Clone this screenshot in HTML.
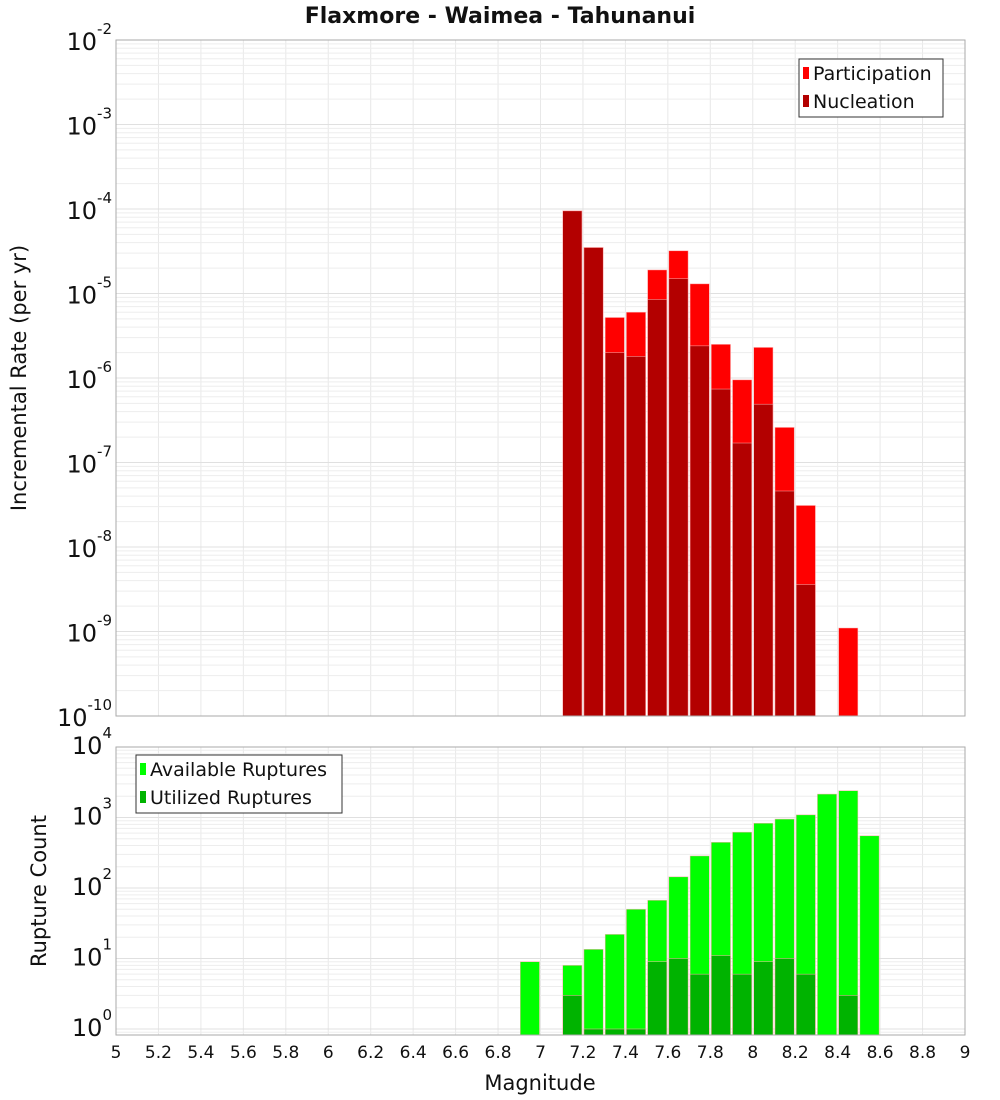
<!DOCTYPE html>
<html><head><meta charset="utf-8"><style>
body{margin:0;background:#fff}
svg{display:block;font-family:"DejaVu Sans","Liberation Sans",sans-serif}
</style></head><body>
<svg id="c" width="1000" height="1100" xmlns="http://www.w3.org/2000/svg"></svg>
<script>
const binCenters = [6.95,7.05,7.15,7.25,7.35,7.45,7.55,7.65,7.75,7.85,7.95,8.05,8.15,8.25,8.35,8.45,8.55];
const participation = [0,0,9.5e-5,3.5e-5,5.2e-6,6e-6,1.9e-5,3.2e-5,1.3e-5,2.5e-6,9.5e-7,2.3e-6,2.6e-7,3.1e-8,0,1.1e-9,0];
const nucleation = [0,0,9.5e-5,3.5e-5,2.0e-6,1.8e-6,8.5e-6,1.5e-5,2.4e-6,7.4e-7,1.7e-7,4.9e-7,4.6e-8,3.6e-9,0,0,0];
const available = [9,0,8,13.5,22,50,67,144,285,445,620,830,950,1090,2150,2400,550];
const utilized = [0,0,3,1,1,1,9,10,6,11,6,9,10,6,0,3,0];
const xTicks = ["5","5.2","5.4","5.6","5.8","6","6.2","6.4","6.6","6.8","7","7.2","7.4","7.6","7.8","8","8.2","8.4","8.6","8.8","9"];
const topExps = [-2,-3,-4,-5,-6,-7,-8,-9,-10];
const botExps = [4,3,2,1,0];

const NS="http://www.w3.org/2000/svg";
const svg=document.getElementById('c');
function mk(tag,attrs,parent){const e=document.createElementNS(NS,tag);for(const k in attrs)e.setAttribute(k,attrs[k]);(parent||svg).appendChild(e);return e;}
const X0=116,X1=965;
const xs=m=>X0+(m-5)/4*(X1-X0);
const T0=40,T1=716;
const yTop=v=>T0+(-2-Math.log10(v))*(T1-T0)/8;
const B0=747,B1=1035,BD=70.5;
const yBot=v=>B0+(4-Math.log10(v))*BD;

function grid(y0,y1,decs,yf){
  const g=mk('g',{});
  
  for(let i=0;i<=20;i++){const x=xs(5+i*0.2);mk('line',{x1:x,x2:x,y1:y0,y2:y1,stroke:'#e8e8e8','stroke-width':1},g);}
  for(const d of decs){for(let k=1;k<10;k++){const y=yf(k*Math.pow(10,d));if(y>=y0&&y<=y1)mk('line',{x1:X0,x2:X1,y1:y,y2:y,stroke:k==1?'#e0e0e0':'#ededed','stroke-width':1},g);}}
}
grid(T0,T1,[-10,-9,-8,-7,-6,-5,-4,-3,-2],yTop);
grid(B0,B1,[-1,0,1,2,3,4],yBot);

const bw=(xs(5.1)-xs(5))-2;
function bars(vals,yf,ybase,color,name){
  const g=mk('g',{});
  
  vals.forEach((v,i)=>{if(!v)return;const y=Math.max(yf(v),0);const x=xs(binCenters[i])-bw/2;
    const r=mk('rect',{x:x,y:y,width:bw,height:ybase-y,fill:color,stroke:'#ffb0b0','stroke-width':0.5},g);
    
    });
}
bars(participation,yTop,T1,'#ff0000','participation');
bars(nucleation,yTop,T1,'#b30000','nucleation');
bars(available,yBot,B1,'#00ff00','available-ruptures');
bars(utilized,yBot,B1,'#00b300','utilized-ruptures');

mk('rect',{x:X0,y:T0,width:X1-X0,height:T1-T0,fill:'none',stroke:'#aaa'});
mk('rect',{x:X0,y:B0,width:X1-X0,height:B1-B0,fill:'none',stroke:'#aaa'});

function tickLbl(exp,y,name){
  const t=mk('text',{x:112,y:y+10,'text-anchor':'end','font-size':24,fill:'#111'});
  
  t.textContent='10';
  const s=mk('tspan',{dy:-16,'font-size':15});s.textContent=String(exp);t.appendChild(s);
}
topExps.forEach(e=>tickLbl(e,yTop(Math.pow(10,e)),'top-y-tick'));
botExps.forEach(e=>tickLbl(e,yBot(Math.pow(10,e))-3,'bottom-y-tick'));
// fix superscript anchoring: shift superscripts right of base
xTicks.forEach((l,i)=>{const t=mk('text',{x:xs(5+i*0.2),y:1058,'text-anchor':'middle','font-size':17,fill:'#111'});t.textContent=l;});

let t=mk('text',{x:500,y:23,'text-anchor':'middle','font-size':22,'font-weight':'bold',fill:'#111'});t.textContent='Flaxmore - Waimea - Tahunanui';
t=mk('text',{x:540,y:1090,'text-anchor':'middle','font-size':21,fill:'#111'});t.textContent='Magnitude';
t=mk('text',{x:26,y:378,'text-anchor':'middle','font-size':21,fill:'#111',transform:'rotate(-90 26 378)'});t.textContent='Incremental Rate (per yr)';
t=mk('text',{x:46,y:891,'text-anchor':'middle','font-size':21,fill:'#111',transform:'rotate(-90 46 891)'});t.textContent='Rupture Count';

function legend(x,y,w,h,items,name){
  const g=mk('g',{});
  mk('rect',{x:x,y:y,width:w,height:h,fill:'#fff',stroke:'#333'},g);
  items.forEach((it,i)=>{const cy=y+14+i*28;
    mk('rect',{x:x+4,y:cy-6,width:6,height:12,fill:it[1]},g);
    const tt=mk('text',{x:x+14,y:cy+7,'font-size':19,fill:'#111'},g);tt.textContent=it[0];
    });
}
legend(799,59,144,58,[['Participation','#ff0000'],['Nucleation','#b30000']],'top-legend');
legend(136,755,206,58,[['Available Ruptures','#00ff00'],['Utilized Ruptures','#00b300']],'bottom-legend');
</script>
</body></html>
